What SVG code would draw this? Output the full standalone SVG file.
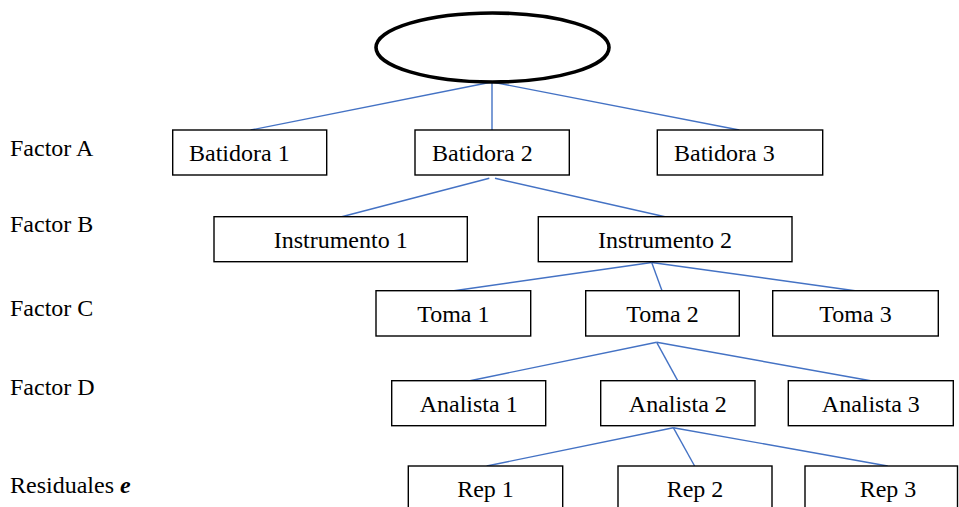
<svg xmlns="http://www.w3.org/2000/svg" width="959" height="507" viewBox="0 0 959 507">
<style>
.box{fill:#fff;stroke:#000;stroke-width:1.4}
.t{font-family:"Liberation Serif","Times New Roman",serif;font-size:24px;fill:#000}
.c{text-anchor:middle}
.ln{stroke:#4472C4;stroke-width:1.4;fill:none}
</style>
<rect width="959" height="507" fill="#fff"/>
<g id="connectors">
<line class="ln" x1="492" y1="82" x2="250.7" y2="130"/>
<line class="ln" x1="492" y1="82" x2="492" y2="130"/>
<line class="ln" x1="492" y1="82" x2="739.3" y2="130"/>
<line class="ln" x1="489.3" y1="178.3" x2="341.7" y2="216.7"/>
<line class="ln" x1="495" y1="178.3" x2="665" y2="216.7"/>
<line class="ln" x1="651.7" y1="262.5" x2="454" y2="290.7"/>
<line class="ln" x1="651.7" y1="262.5" x2="662" y2="290.7"/>
<line class="ln" x1="651.7" y1="262.5" x2="855" y2="290.7"/>
<line class="ln" x1="656.7" y1="342.3" x2="470" y2="380.7"/>
<line class="ln" x1="656.7" y1="342.3" x2="677.7" y2="380.7"/>
<line class="ln" x1="656.7" y1="342.3" x2="870.7" y2="380.7"/>
<line class="ln" x1="673.3" y1="427.7" x2="486.7" y2="466"/>
<line class="ln" x1="673.3" y1="427.7" x2="694.6" y2="466"/>
<line class="ln" x1="673.3" y1="427.7" x2="887.7" y2="466"/>
</g>
<g id="root"><ellipse cx="492.5" cy="47.5" rx="116.5" ry="34.5" fill="#fff" stroke="#000" stroke-width="3.6"/></g>
<g id="labels">
<text class="t" x="10" y="155.5">Factor A</text>
<text class="t" x="10" y="231.5">Factor B</text>
<text class="t" x="10" y="316">Factor C</text>
<text class="t" x="10" y="395">Factor D</text>
<text class="t" x="10" y="493">Residuales <tspan font-weight="bold" font-style="italic">e</tspan></text>
</g>
<g id="batidora1"><rect class="box" x="172.7" y="130" width="154" height="45"/><text class="t" x="189" y="160.7">Batidora 1</text></g>
<g id="batidora2"><rect class="box" x="415" y="130" width="154.3" height="45"/><text class="t" x="432" y="160.7">Batidora 2</text></g>
<g id="batidora3"><rect class="box" x="657.3" y="130" width="165.4" height="45"/><text class="t" x="674" y="160.7">Batidora 3</text></g>
<g id="instrumento1"><rect class="box" x="214" y="216.7" width="253.3" height="45"/><text class="t c" x="340.7" y="248">Instrumento 1</text></g>
<g id="instrumento2"><rect class="box" x="538.3" y="216.7" width="253.7" height="45"/><text class="t c" x="665" y="248">Instrumento 2</text></g>
<g id="toma1"><rect class="box" x="376" y="290.7" width="154.7" height="45.3"/><text class="t c" x="453.3" y="321.7">Toma 1</text></g>
<g id="toma2"><rect class="box" x="585.7" y="290.7" width="153.6" height="45.3"/><text class="t c" x="662.5" y="321.7">Toma 2</text></g>
<g id="toma3"><rect class="box" x="772.7" y="290.7" width="165.6" height="45.3"/><text class="t c" x="855.5" y="321.7">Toma 3</text></g>
<g id="analista1"><rect class="box" x="391.7" y="380.7" width="154" height="45"/><text class="t c" x="468.7" y="411.7">Analista 1</text></g>
<g id="analista2"><rect class="box" x="600.7" y="380.7" width="154.3" height="45"/><text class="t c" x="677.8" y="411.7">Analista 2</text></g>
<g id="analista3"><rect class="box" x="788.3" y="380.7" width="165" height="45"/><text class="t c" x="870.8" y="411.7">Analista 3</text></g>
<g id="rep1"><rect class="box" x="408.3" y="466" width="154.4" height="50"/><text class="t c" x="485.5" y="497">Rep 1</text></g>
<g id="rep2"><rect class="box" x="618" y="466" width="154" height="50"/><text class="t c" x="695" y="497">Rep 2</text></g>
<g id="rep3"><rect class="box" x="805" y="466" width="152.5" height="50"/><text class="t c" x="888" y="497">Rep 3</text></g>
</svg>
